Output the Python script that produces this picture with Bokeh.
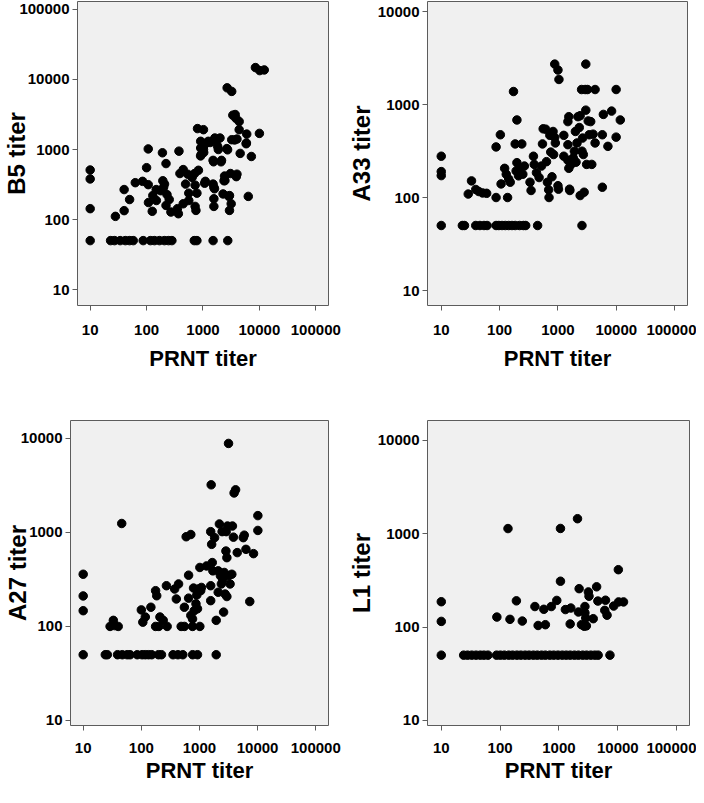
from bokeh.plotting import figure
from bokeh.layouts import column, row
from bokeh.models import FixedTicker, PrintfTickFormatter, Range1d
from bokeh.embed import file_html
from bokeh.resources import INLINE

# ---------------- data ----------------
decade_ticks = [10, 100, 1000, 10000, 100000]
x_label = "PRNT titer"

# Panel 1: B5
b5_x10 = [10, 10, 10, 10]
b5_y10 = [510, 380, 143, 50]
b5_floor_x = [23, 27, 34, 42, 50, 58, 87, 117, 138, 169, 207, 245, 281, 700, 780, 1510, 2750]
b5_floor_y = [50] * len(b5_floor_x)
b5_prnt = [28, 40, 40, 50, 63, 85, 100, 107, 107, 108,
           126, 129, 148, 149, 191, 194, 200, 179, 208, 221,
           221, 230, 252, 270, 352, 366, 375, 390, 446, 446,
           491, 537, 560, 560, 642, 710, 725, 725, 750, 780,
           830, 800, 1020, 910, 910, 930, 1020, 1100, 1100, 1240,
           1510, 1510, 1560, 1620, 1560, 1560, 1820, 2000, 2130, 2270,
           2360, 2410, 2650, 2680, 3230, 2950, 2950, 3070, 3160, 3230,
           3380, 3720, 3840, 4000, 4000, 4380, 4380, 4560, 5960, 5890,
           6350, 7200, 8500, 10150, 12200, 10000,
           1340, 1760, 1870, 2730, 3640, 5820, 1540, 2090, 1030, 906,
           1070, 1600, 2880, 2450, 3890]
b5_titer = [111, 268, 134, 193, 336, 351, 550, 1020, 315, 175,
            131, 220, 268, 187, 898, 358, 288, 258, 321, 630,
            159, 227, 193, 128, 143, 121, 948, 454, 517, 168,
            321, 444, 238, 187, 400, 454, 310, 154, 135, 238,
            505, 1990, 1920, 1310, 1050, 850, 1000, 1200, 351, 1310,
            700, 321, 288, 1460, 198, 154, 1110, 1460, 700, 232,
            358, 418, 1030, 7600, 6760, 220, 135, 454, 168, 1380,
            3090, 3160, 2790, 1410, 444, 2510, 1920, 880, 1660, 1240,
            214, 795, 14800, 13400, 13700, 1700,
            1260, 1370, 1000, 990, 1370, 1210, 668, 668, 906, 810,
            330, 275, 214, 360, 410]

# Panel 2: A33
a33_x10 = [10, 10, 10, 10]
a33_y10 = [278, 190, 172, 50]
a33_floor_x = [23, 25, 39, 46, 54, 61, 87, 97, 110, 125, 143, 163, 185, 220, 256, 280, 448, 2580]
a33_floor_y = [50] * len(a33_floor_x)
a33_prnt = [29, 33, 39, 44, 51, 60, 87, 87, 103, 106,
            122, 130, 137, 143, 152, 173, 185, 192, 198, 198,
            211, 225, 240, 250, 266, 332, 346, 380, 392, 428,
            475, 522, 543, 558, 617, 636, 660, 693, 703, 726,
            752, 790, 824, 843, 880, 902, 880, 1000, 1040, 1000,
            1020, 1260, 1260, 1480, 1480, 1480, 1535, 1580, 1600, 1535,
            1680, 1830, 1910, 1990, 2040, 2120, 2200, 2320, 2400, 2400,
            2540, 2580, 2640, 2720, 2810, 2930, 3000, 3000, 3100, 3210,
            3300, 3430, 3640, 3800, 4000, 4330, 4330, 5760, 5760, 6000,
            7180, 8300, 9930, 9930, 11700]
a33_titer = [109, 151, 122, 116, 112, 111, 350, 100, 473, 140,
             206, 178, 100, 158, 146, 1380, 377, 193, 682, 237,
             171, 206, 377, 178, 218, 146, 119, 278, 227, 185,
             164, 218, 377, 548, 543, 243, 146, 121, 100, 466,
             308, 167, 513, 290, 443, 386, 2720, 2350, 1860, 134,
             123, 466, 278, 370, 655, 251, 740, 123, 119, 206,
             227, 267, 315, 513, 240, 386, 740, 566, 759, 105,
             1450, 315, 436, 290, 114, 1450, 2720, 870, 227, 1450,
             666, 473, 655, 227, 480, 1450, 386, 473, 129, 783,
             355, 850, 1450, 446, 682]

# Panel 3: A27
a27_x10 = [10, 10, 10, 10]
a27_y10 = [359, 211, 147, 50]
a27_floor_x = [24, 26, 39, 47, 57, 64, 85, 103, 117, 133, 151, 197, 222, 351, 426, 517, 763, 925, 1940]
a27_floor_y = [50] * len(a27_floor_x)
a27_prnt = [29, 33, 35, 40, 46, 100, 106, 117, 146, 176,
            184, 176, 200, 209, 238, 270, 278, 374, 400, 437,
            484, 550, 550, 590, 650, 650, 710, 710, 760, 760,
            810, 790, 870, 900, 925, 950, 1015, 1015, 1050, 1080,
            1320, 1560, 1590, 1620, 1560, 1560, 1660, 1700, 1820, 1940,
            2100, 2100, 2200, 2290, 2380, 2450, 2510, 2600, 2670, 2760,
            2850, 2880, 2960, 2960, 3030, 3160, 3160, 3360, 3600, 3690,
            3840, 3940, 4180, 4460, 5660, 5890, 6300, 7330, 8500, 10100,
            10100]
a27_titer = [100, 116, 102, 100, 1245, 150, 111, 126, 160, 240,
             212, 100, 100, 126, 116, 271, 100, 250, 196, 283,
             100, 160, 100, 900, 351, 200, 950, 131, 100, 120,
             147, 256, 174, 216, 154, 250, 100, 424, 240, 260,
             440, 1020, 3210, 747, 271, 188, 478, 390, 880, 116,
             231, 390, 1230, 346, 283, 1020, 316, 142, 375, 221,
             634, 1020, 208, 539, 1170, 8850, 346, 283, 359, 1170,
             891, 2630, 2840, 610, 880, 935, 661, 184, 595, 1510,
             1050]

# Panel 4: L1
l1_x10 = [10, 10, 10]
l1_y10 = [187, 115, 50]
l1_floor_x = [24, 28, 33, 39, 46, 53, 62, 87, 101, 118, 140, 163, 193, 225, 266, 310,
              367, 428, 505, 588, 698, 815, 962, 1137, 1328, 1550, 1830, 2140, 2530,
              2950, 3480, 4060, 4630, 7350]
l1_floor_y = [50] * len(l1_floor_x)
l1_prnt = [88, 136, 147, 189, 238, 390, 442, 553, 587, 740,
           918, 1060, 1060, 1285, 1550, 1590, 2065, 2140, 2200, 2410,
           2690, 2760, 2760, 2850, 2920, 3160, 3240, 3820, 4360, 4580,
           6000, 6170, 6560, 8500, 10200, 10300, 12500]
l1_titer = [128, 1137, 121, 191, 116, 166, 104, 155, 106, 166,
            193, 1140, 310, 154, 108, 160, 1450, 145, 258, 106,
            102, 166, 142, 125, 103, 238, 214, 123, 270, 190,
            151, 194, 134, 168, 412, 186, 186]

FONT = "Liberation Sans"
FRAME = "#5c5c5c"


def panel(xs, ys, ylabel, xr, yr, w, h, bl, br, bt, bb, ystand, xtick_st, xlab_st):
    p = figure(width=w, height=h, x_axis_type="log", y_axis_type="log",
               x_range=Range1d(*xr), y_range=Range1d(*yr),
               output_backend="svg", toolbar_location=None,
               min_border_left=bl, min_border_right=br,
               min_border_top=bt, min_border_bottom=bb)
    p.background_fill_color = "#f0f0f0"
    p.border_fill_color = "white"
    p.outline_line_color = FRAME
    p.outline_line_width = 1
    p.xgrid.visible = False
    p.ygrid.visible = False
    p.scatter(xs, ys, size=8.5, color="black")
    for ax in (p.xaxis[0], p.yaxis[0]):
        ax.ticker = FixedTicker(ticks=decade_ticks)
        ax.formatter = PrintfTickFormatter(format="%d")
        ax.axis_line_color = None
        ax.major_tick_line_color = FRAME
        ax.major_tick_out = 5
        ax.major_tick_in = 0
        ax.minor_tick_line_color = None
        ax.major_label_text_font = FONT
        ax.major_label_text_font_style = "bold"
        ax.major_label_text_font_size = "15px"
        ax.major_label_text_color = "black"
        ax.axis_label_text_font = FONT
        ax.axis_label_text_font_style = "bold"
        ax.axis_label_text_color = "black"
    p.xaxis[0].axis_label = x_label
    p.xaxis[0].axis_label_text_font_size = "22px"
    p.xaxis[0].major_label_standoff = xtick_st
    p.xaxis[0].axis_label_standoff = xlab_st
    p.yaxis[0].axis_label = ylabel
    p.yaxis[0].axis_label_text_font_size = "24px"
    p.yaxis[0].major_label_standoff = 3
    p.yaxis[0].axis_label_standoff = ystand
    return p


p1 = panel(b5_x10 + b5_floor_x + b5_prnt, b5_y10 + b5_floor_y + b5_titer, "B5 titer",
           (5.96, 167900), (5.92, 130000), 344, 392, 71, 16, 1, 87, -14, 14, 8)
p2 = panel(a33_x10 + a33_floor_x + a33_prnt, a33_y10 + a33_floor_y + a33_titer, "A33 titer",
           (5.81, 166000), (6.9, 12820), 352, 392, 79, 9, 1, 87, 0, 14, 8)
p3 = panel(a27_x10 + a27_floor_x + a27_prnt, a27_y10 + a27_floor_y + a27_titer, "A27 titer",
           (6.05, 165600), (8.83, 15520), 344, 395, 64, 16, 28, 62, -13, 12, 2)
p4 = panel(l1_x10 + l1_floor_x + l1_prnt, l1_y10 + l1_floor_y + l1_titer, "L1 titer",
           (5.83, 165200), (8.81, 16370), 352, 395, 79, 7, 28, 62, 0, 12, 2)

layout = column(row(p1, p2), row(p3, p4))
open("out.html", "w").write(file_html(layout, INLINE))
